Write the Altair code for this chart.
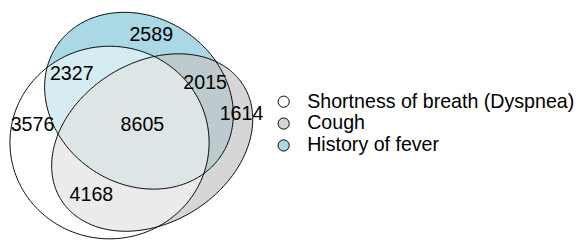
import altair as alt
import numpy as np
import pandas as pd

# ---- sets ----
set_names = ["Shortness of breath (Dyspnea)", "Cough", "History of fever"]
legend_fill = ["#ffffff", "#d6d6d6", "#aad8e4"]
set_fill = ["#ffffff", "#c4c4c4", "#aad8e4"]
set_fill_opacity = [0.5, 0.7, 1.0]
draw_order = [2, 1, 0]  # fever first, then cough, then dyspnea on top

# ellipse shape parameters (reference pixel space, y down)
ell_cx = [111.5, 155.0, 141.5]
ell_cy = [140.0, 140.0, 97.0]
ell_a = [101.5, 110.0, 101.0]
ell_b = [99.0, 82.0, 85.5]
ell_angle = [0.0, -33.0, 35.0]

# region counts and label anchors
region_counts = ["2589", "2327", "2015", "1614", "3576", "8605", "4168"]
label_x = [154, 73, 209, 246, 33, 145, 93]
label_y = [30, 70, 79, 111, 122, 122, 194]

# legend anchors
legend_sym_x = [289, 289, 289]
legend_y = [98, 120.5, 143]
legend_text_x = 313

FONT = "Liberation Sans"
FS = 20

xs = alt.Scale(domain=[8, 575])
ys = alt.Scale(domain=[6, 240], reverse=True)


def ellipse_fill(i, n=400):
    cx, cy, a, b = ell_cx[i], ell_cy[i], ell_a[i], ell_b[i]
    th = np.radians(ell_angle[i])
    c, s = np.cos(th), np.sin(th)
    xext = np.sqrt(a * a * c * c + b * b * s * s)
    xp = np.linspace(-xext, xext, n)
    A = s * s / a**2 + c * c / b**2
    B = 2 * xp * s * c * (1 / a**2 - 1 / b**2)
    C = xp**2 * (c * c / a**2 + s * s / b**2) - 1
    disc = np.clip(B * B - 4 * A * C, 0, None)
    y1 = (-B - np.sqrt(disc)) / (2 * A)
    y2 = (-B + np.sqrt(disc)) / (2 * A)
    return pd.DataFrame({"x": cx + xp, "y": cy + y1, "y2": cy + y2})


def ellipse_outline(i, n=361):
    cx, cy, a, b = ell_cx[i], ell_cy[i], ell_a[i], ell_b[i]
    th = np.radians(ell_angle[i])
    t = np.linspace(0, 2 * np.pi, n)
    x = cx + a * np.cos(t) * np.cos(th) - b * np.sin(t) * np.sin(th)
    y = cy + a * np.cos(t) * np.sin(th) + b * np.sin(t) * np.cos(th)
    return pd.DataFrame({"x": x, "y": y, "t": np.arange(n), "set": set_names[i]})


layers = []
for i in draw_order:
    df = ellipse_fill(i)
    layers.append(
        alt.Chart(df).mark_area(
            fill=set_fill[i], fillOpacity=set_fill_opacity[i], opacity=1,
            strokeWidth=0, stroke=None
        ).encode(
            x=alt.X("x:Q", scale=xs, axis=None),
            y=alt.Y("y:Q", scale=ys, axis=None),
            y2="y2:Q",
        )
    )

outline_df = pd.concat([ellipse_outline(i) for i in range(3)])
layers.append(
    alt.Chart(outline_df).mark_line(color="black", strokeWidth=1).encode(
        x=alt.X("x:Q", scale=xs, axis=None),
        y=alt.Y("y:Q", scale=ys, axis=None),
        detail="set:N",
        order="t:Q",
    )
)

labels_df = pd.DataFrame({"x": label_x, "y": label_y, "txt": region_counts})
layers.append(
    alt.Chart(labels_df).mark_text(
        font=FONT, fontSize=FS, color="black", align="center", baseline="middle"
    ).encode(
        x=alt.X("x:Q", scale=xs, axis=None),
        y=alt.Y("y:Q", scale=ys, axis=None),
        text="txt:N",
    )
)

leg_df = pd.DataFrame({
    "x": legend_sym_x, "y": legend_y, "name": set_names, "fill": legend_fill,
    "tx": [legend_text_x] * 3,
})
layers.append(
    alt.Chart(leg_df).mark_point(
        shape="circle", filled=True, size=130, stroke="black", strokeWidth=1, opacity=1
    ).encode(
        x=alt.X("x:Q", scale=xs, axis=None),
        y=alt.Y("y:Q", scale=ys, axis=None),
        fill=alt.Fill("fill:N", scale=None),
    )
)
layers.append(
    alt.Chart(leg_df).mark_text(
        font=FONT, fontSize=FS, color="black", align="left", baseline="middle"
    ).encode(
        x=alt.X("tx:Q", scale=xs, axis=None),
        y=alt.Y("y:Q", scale=ys, axis=None),
        text="name:N",
    )
)

chart = alt.layer(*layers).properties(
    width=567, height=232, padding=0
).configure_view(stroke=None)

chart.save("out.html", embed_options={"renderer": "svg", "actions": False})
